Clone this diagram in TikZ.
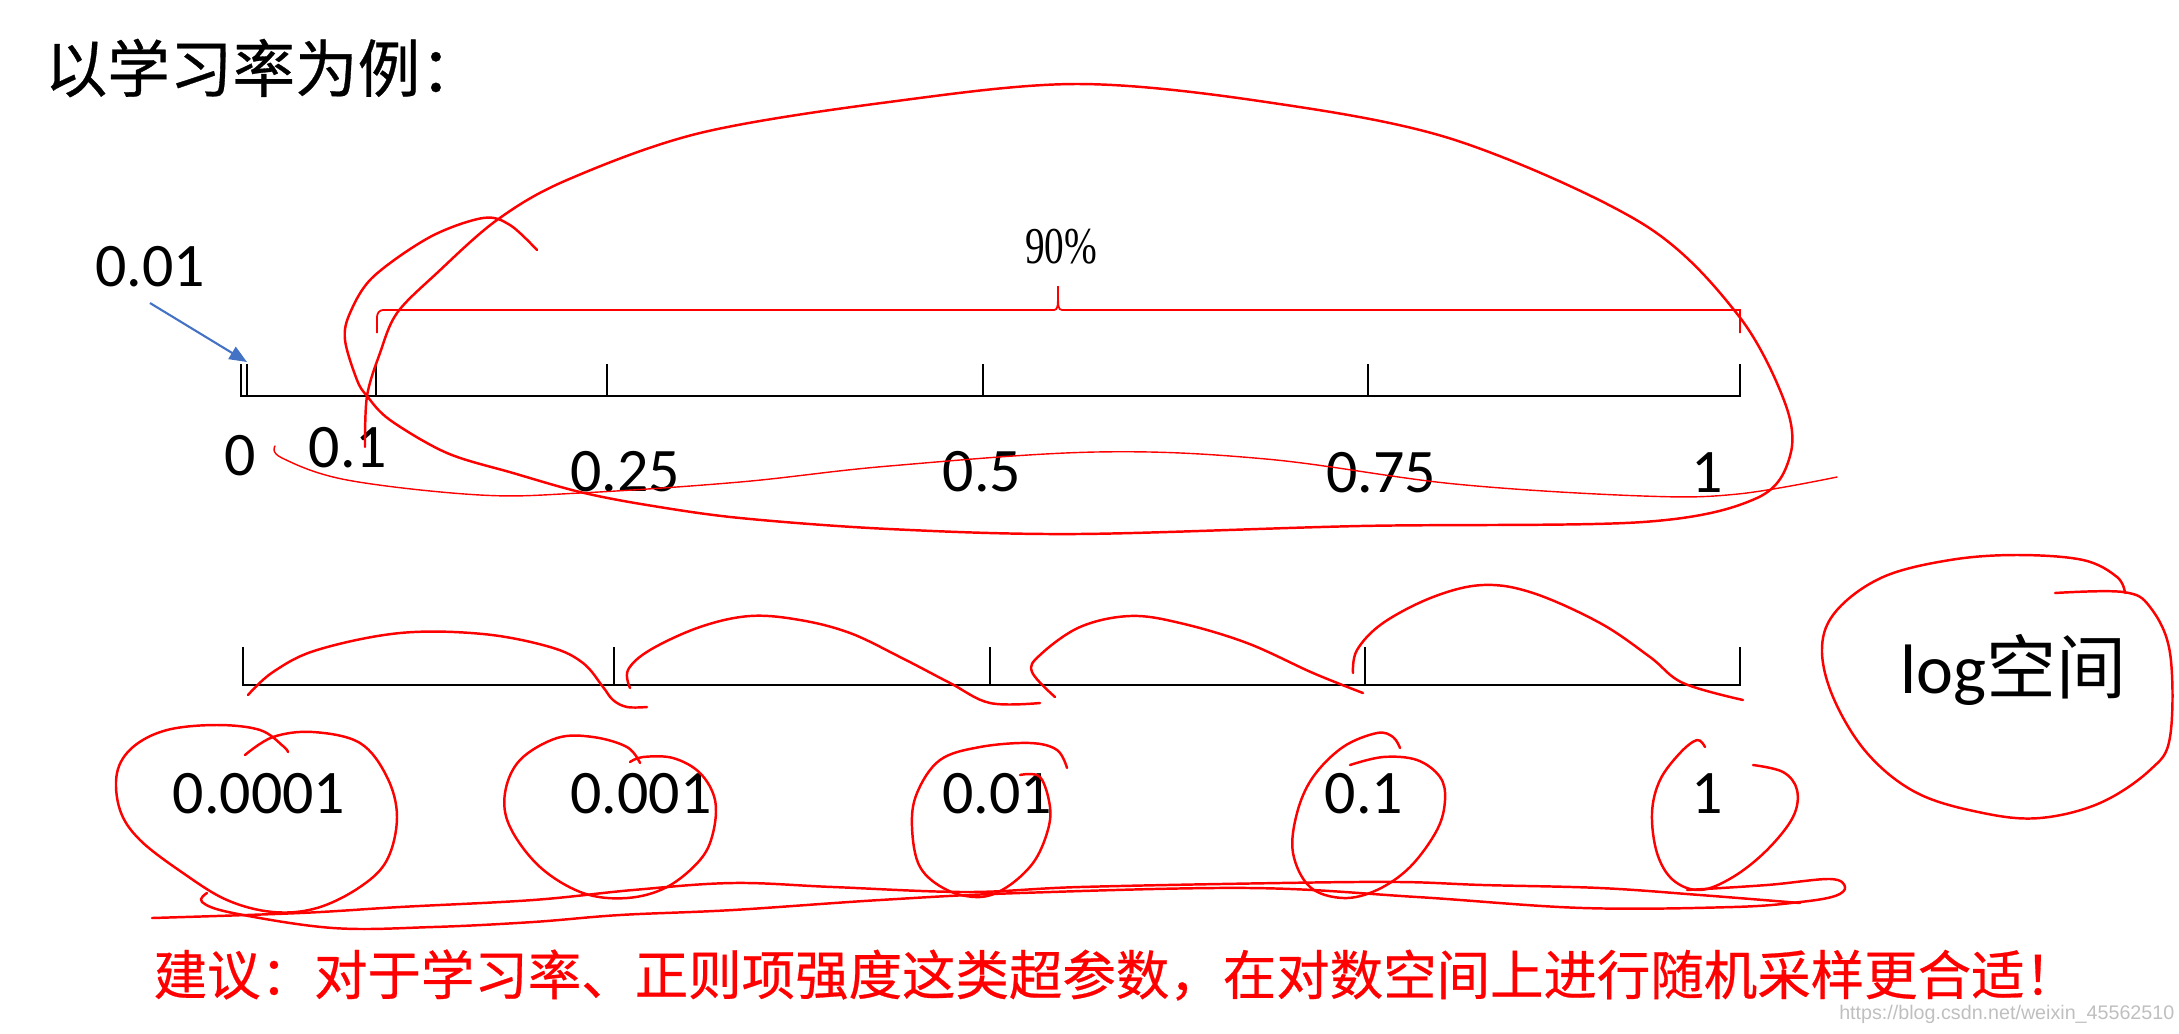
\documentclass[tikz,border=0pt]{standalone}
\usepackage{fontspec}
\setmainfont{Carlito}
\newfontfamily\cjk{Noto Sans CJK SC}
\newfontfamily\cjkheavy[FakeBold=0.5]{Noto Sans CJK SC}
\newfontfamily\narrowserif[FakeStretch=0.76]{Liberation Serif}
\newfontfamily\wmfont{Liberation Sans}
\usetikzlibrary{arrows.meta}
\definecolor{ppblue}{RGB}{68,114,196}
\definecolor{penred}{RGB}{255,0,0}
\tikzset{
  axis/.style={line width=0.65pt, line join=miter},
  ink/.style={penred, line width=0.7pt, line cap=round, line join=round},
  thinink/.style={penred, line width=0.4pt, line cap=round},
  lbl/.style={inner sep=0pt, font=\fontsize{17.6}{20}\selectfont},
  pointer/.style={ppblue, line width=0.6pt, -{Triangle[length=5pt,width=4pt]}}
}
\begin{document}
\begin{tikzpicture}[x=0.01cm,y=-0.01cm]
\useasboundingbox (0,0) rectangle (2179,1033);

% title
\node[anchor=west, inner sep=0pt, font=\fontsize{17.8}{20}\selectfont\cjkheavy] (title) at (44,68) {以学习率为例：};

% linear scale
\draw[axis] (241,364) -- (241,396) -- (1740,396) -- (1740,364);
\draw[axis] (247,364) -- (247,396);
\foreach \t in {376,607,983,1368}
    \draw[axis] (\t,364) -- (\t,396);

\foreach \x/\y/\txt/\nm in {240/456/0/lin0, 348/448/0.1/lin1, 625/472/0.25/lin2,
                            982/472/0.5/lin3, 1381/473/0.75/lin4, 1707/473/1/lin5}
    \node[lbl] (\nm) at (\x,\y) {\txt};

% 0.01 sits right next to 0
\node[lbl] (small) at (150,267) {0.01};
\coordinate (zerotick) at (247,362);
\draw[pointer] ([yshift=-0.15cm]small.south) -- (zerotick);

% 90% brace
\draw[penred, line width=0.5pt]
    (377,333) -- (377,317) to[out=90,in=180] (383,310) -- (1054,310)
    .. controls (1058,309) .. (1058,286) .. controls (1058,309) .. (1062,310)
    -- (1740,310) -- (1740,333);
\node[inner sep=0pt, font=\fontsize{14.7}{16}\selectfont\narrowserif] (pct) at (1061,247) {90\%};

% hand drawn loop round 0.1 ... 1
\draw[ink] plot[smooth, tension=0.55] coordinates {
    (537,250) (510,225) (483,218) (430,237) (373,277) (350,313) (345,340)
    (357,380) (367,396) (390,420) (447,453) (513,473) (580,492) (647,505)
    (740,518) (889,529) (1077,534) (1360,526) (1643,522) (1757,498)
    (1790,456) (1785,403) (1738,315) (1643,224) (1455,140) (1266,102)
    (1077,84) (889,102) (700,133) (567,180) (497,220) (437,273) (397,313)
    (380,353) (367,396) (365,447)};
\draw[thinink] plot[smooth, tension=0.6] coordinates {
    (275,446) (282,458) (347,480) (480,495) (580,493) (740,482) (889,466)
    (1096,452) (1266,459) (1455,484) (1643,496) (1738,494) (1837,477)};

% log scale
\draw[axis] (243,647) -- (243,685) -- (1740,685) -- (1740,647);
\foreach \t in {614,990,1365}
    \draw[axis] (\t,647) -- (\t,685);

\foreach \x/\txt/\nm in {259/0.0001/log1, 641/0.001/log2, 997/0.01/log3,
                         1364/0.1/log4, 1707/1/log5}
    \node[lbl] (\nm) at (\x,794) {\txt};

% arcs over the four decades
\draw[ink] plot[smooth, tension=0.6] coordinates {
    (248,695) (273,672) (317,650) (400,633) (483,634) (550,647) (583,663)
    (603,687) (613,700) (627,707) (647,707)};
\draw[ink] plot[smooth, tension=0.6] coordinates {
    (630,688) (628,670) (650,650) (700,627) (750,616) (800,620) (850,633)
    (900,657) (950,683) (990,703) (1040,703)};
\draw[ink] plot[smooth, tension=0.6] coordinates {
    (1055,697) (1032,672) (1040,655) (1080,627) (1130,616) (1180,623)
    (1247,643) (1313,673) (1363,693)};
\draw[ink] plot[smooth, tension=0.6] coordinates {
    (1353,673) (1357,650) (1383,623) (1433,597) (1483,585) (1533,593)
    (1600,623) (1650,657) (1683,683) (1743,700)};

% rings round the decade labels
\draw[ink] plot[smooth, tension=0.6] coordinates {
    (245,755) (273,737) (313,732) (360,743) (387,777) (397,817) (387,860)
    (360,887) (317,908) (273,912) (227,900) (183,873) (140,840) (120,810)
    (117,773) (133,747) (167,730) (217,725) (260,730) (283,746) (288,752)};
\draw[ink] plot[smooth, tension=0.6] coordinates {
    (630,762) (643,757) (673,758) (700,773) (715,800) (713,833) (700,860)
    (667,887) (627,898) (583,893) (540,867) (510,827) (505,793) (520,760)
    (557,738) (593,737) (627,747) (640,763)};
\draw[ink] plot[smooth, tension=0.6] coordinates {
    (1020,775) (1040,777) (1050,807) (1047,833) (1033,863) (1007,887)
    (980,897) (947,890) (920,867) (912,827) (917,793) (940,760) (980,747)
    (1030,743) (1057,750) (1067,768)};
\draw[ink] plot[smooth, tension=0.6] coordinates {
    (1350,765) (1383,757) (1417,760) (1440,777) (1445,800) (1437,830)
    (1410,867) (1377,890) (1343,898) (1310,887) (1293,853) (1297,813)
    (1313,777) (1343,747) (1377,733) (1393,737) (1400,748)};
\draw[ink] plot[smooth, tension=0.6] coordinates {
    (1753,765) (1783,772) (1797,790) (1793,817) (1767,850) (1733,877)
    (1700,890) (1673,880) (1657,853) (1652,813) (1660,780) (1680,753)
    (1697,740) (1705,747)};

% double underline
\draw[ink] plot[smooth, tension=0.6] coordinates {
    (152,918) (300,913) (400,907) (533,900) (633,890) (733,883) (833,887)
    (967,892) (1080,887) (1280,883) (1400,882) (1483,885) (1600,888)
    (1700,895) (1800,903)};
\draw[ink] plot[smooth, tension=0.6] coordinates {
    (207,893) (202,902) (233,913) (333,928) (433,927) (533,922) (620,915)
    (733,910) (880,900) (1020,893) (1250,888) (1417,897) (1583,908)
    (1733,907) (1800,902) (1835,896) (1845,887) (1830,879) (1767,885)
    (1687,890)};

% log space note
\node[anchor=base west, inner sep=0pt, font=\fontsize{19.9}{22}\selectfont] (logsp) at (1900,693) {log{\cjk 空间}};
\draw[ink] plot[smooth, tension=0.6] coordinates {
    (2055,593) (2123,592) (2150,607) (2170,653) (2170,737) (2150,770)
    (2100,803) (2040,818) (1983,813) (1917,793) (1867,753) (1833,697)
    (1822,647) (1837,610) (1883,577) (1950,560) (2017,555) (2083,560)
    (2117,577) (2125,593)};

% advice
\node[anchor=west, inner sep=0pt, text=penred, font=\fontsize{15.2}{17}\selectfont\cjkheavy] (advice) at (153,975)
    {建议：对于学习率、正则项强度这类超参数，在对数空间上进行随机采样更合适！};

\node[anchor=east, inner sep=0pt, text=black!25, font=\fontsize{5.6}{6}\selectfont\wmfont] (wm) at (2175,1014)
    {https://blog.csdn.net/weixin\_45562510};
\end{tikzpicture}
\end{document}
